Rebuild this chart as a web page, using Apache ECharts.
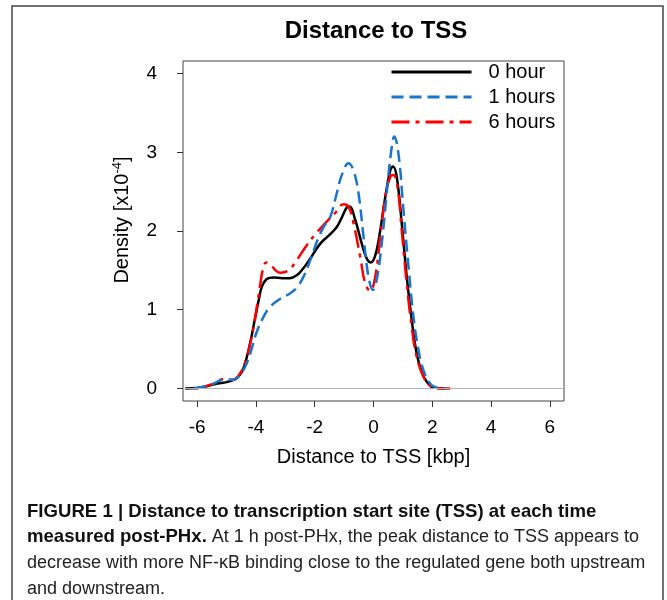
<!DOCTYPE html>
<html>
<head>
<meta charset="utf-8">
<script src="https://cdn.jsdelivr.net/npm/echarts@6/dist/echarts.min.js"></script>
<style>
    html, body {
        margin: 0;
        padding: 0;
        background: #fff;
    }
    #chart {
        width: 667px;
        height: 600px;
    }
</style>
</head>
<body>
<div id="chart"></div>
<script>
// distance to TSS [kbp] and density [x10^-4]
const hour0X = [-6.4, -6.0, -5.7, -5.33, -5.0, -4.75, -4.55, -4.4, -4.2, -4.02, -3.9, -3.8, -3.63, -3.4, -3.1, -2.85, -2.6, -2.4, -2.15, -1.81, -1.47, -1.25, -1.08, -0.91, -0.82, -0.62, -0.4, -0.23, -0.1, 0.06, 0.23, 0.4, 0.57, 0.66, 0.79, 0.96, 1.13, 1.3, 1.47, 1.64, 1.81, 2.04, 2.4]
const hour0Y = [0, 0.005, 0.025, 0.06, 0.08, 0.11, 0.17, 0.28, 0.57, 0.91, 1.13, 1.29, 1.39, 1.41, 1.4, 1.4, 1.44, 1.52, 1.65, 1.84, 1.96, 2.05, 2.17, 2.3, 2.31, 2.14, 1.84, 1.65, 1.6, 1.69, 2.01, 2.43, 2.77, 2.82, 2.69, 2.1, 1.42, 0.87, 0.44, 0.21, 0.085, 0.01, 0]

const hour1X = [-6.1, -5.56, -5.1, -4.76, -4.54, -4.31, -4.14, -3.97, -3.74, -3.51, -3.17, -2.83, -2.61, -2.38, -2.15, -1.93, -1.7, -1.47, -1.25, -1.08, -0.85, -0.68, -0.51, -0.34, -0.17, -0.02, 0.11, 0.28, 0.45, 0.59, 0.71, 0.85, 1.02, 1.19, 1.36, 1.53, 1.7, 1.93, 2.15, 2.49]
const hour1Y = [0, 0.04, 0.11, 0.11, 0.17, 0.32, 0.51, 0.72, 0.91, 1.04, 1.14, 1.21, 1.28, 1.42, 1.63, 1.86, 2.05, 2.18, 2.48, 2.71, 2.86, 2.77, 2.48, 1.93, 1.42, 1.25, 1.38, 1.84, 2.48, 2.98, 3.2, 2.98, 2.26, 1.55, 0.91, 0.49, 0.23, 0.06, 0.01, 0]

const hour6X = [-6.0, -5.44, -5.1, -4.76, -4.54, -4.31, -4.08, -3.95, -3.85, -3.75, -3.65, -3.5, -3.3, -3.17, -2.89, -2.61, -2.27, -1.93, -1.59, -1.3, -1.02, -0.85, -0.68, -0.45, -0.28, -0.11, 0.06, 0.23, 0.4, 0.57, 0.68, 0.83, 0.96, 1.13, 1.3, 1.47, 1.7, 1.93, 2.15, 2.61]
const hour6Y = [0, 0.06, 0.12, 0.11, 0.19, 0.4, 0.78, 1.08, 1.33, 1.53, 1.6, 1.57, 1.49, 1.47, 1.5, 1.63, 1.82, 1.98, 2.12, 2.23, 2.34, 2.31, 2.1, 1.67, 1.33, 1.24, 1.42, 1.93, 2.43, 2.69, 2.71, 2.52, 2.01, 1.33, 0.78, 0.4, 0.15, 0.03, 0, 0]

const seriesNames = ["0 hour", "1 hours", "6 hours"]
const xTicks = [-6, -4, -2, 0, 2, 4, 6]
const yTicks = [0, 1, 2, 3, 4]

const captionLines = [
    [["b", "FIGURE 1 | Distance to transcription start site (TSS) at each time"]],
    [["b", "measured post-PHx."], ["r", " At 1 h post-PHx, the peak distance to TSS appears to"]],
    [["r", "decrease with more NF-\u03baB binding close to the regulated gene both upstream"]],
    [["r", "and downstream."]],
]

const FONT = "'Liberation Sans', Arial, sans-serif"
const pairs = (xs, ys) => xs.map((x, i) => [x, ys[i]])

const chart = echarts.init(document.getElementById("chart"), null, { renderer: "canvas" })

const captionText = captionLines
    .map((line) => line.map(([k, t]) => "{" + k + "|" + t + "}").join(""))
    .join("\n")

const option = {
    animation: false,
    backgroundColor: "#fff",
    textStyle: { fontFamily: FONT },
    title: {
        text: "Distance to TSS",
        left: 376,
        top: 19,
        padding: 0,
        textAlign: "center",
        textStyle: { fontSize: 24, fontWeight: "bold", color: "#000", fontFamily: FONT },
    },
    legend: {
        data: seriesNames,
        orient: "vertical",
        left: 390,
        top: 62,
        padding: 0,
        itemWidth: 80,
        itemHeight: 20,
        itemGap: 5,
        itemStyle: { color: "transparent", borderWidth: 0, opacity: 0 },
        lineStyle: { width: 3 },
        textStyle: { fontSize: 20, color: "#000", fontFamily: FONT, padding: [0, 0, 0, 12] },
    },
    grid: {
        left: 183,
        right: 103,
        top: 61,
        bottom: 199,
        show: true,
        borderColor: "#444",
        borderWidth: 1,
        backgroundColor: "transparent",
    },
    xAxis: {
        type: "value",
        min: -6.48,
        max: 6.48,
        name: "Distance to TSS [kbp]",
        nameLocation: "middle",
        nameGap: 46,
        nameTextStyle: { fontSize: 20, color: "#000", fontFamily: FONT },
        axisLine: { show: false, onZero: false },
        splitLine: { show: false },
        axisTick: { show: true, length: 6, lineStyle: { color: "#333" }, customValues: xTicks },
        axisLabel: { fontSize: 19, color: "#000", margin: 17, fontFamily: FONT, customValues: xTicks },
    },
    yAxis: {
        type: "value",
        min: -0.16,
        max: 4.16,
        name: "{n|Density [x10}{s|-4}{n|]}",
        nameLocation: "middle",
        nameRotate: 90,
        nameGap: 50,
        nameTextStyle: {
            padding: [0, 0, 0, 22],
            rich: {
                n: { fontSize: 20, color: "#000", fontFamily: FONT, lineHeight: 22 },
                s: { fontSize: 13, color: "#000", fontFamily: FONT, verticalAlign: "top", lineHeight: 22 },
            },
        },
        axisLine: { show: false, onZero: false },
        splitLine: { show: false },
        axisTick: { show: true, length: 6, lineStyle: { color: "#333" }, customValues: yTicks },
        axisLabel: { fontSize: 19, color: "#000", margin: 26, fontFamily: FONT, customValues: yTicks },
    },
    graphic: [
        {
            type: "rect",
            shape: { x: 12, y: 6, width: 651, height: 620 },
            style: { fill: "none", stroke: "#444", lineWidth: 1.5 },
            silent: true,
        },
        {
            type: "text",
            left: 27,
            top: 502,
            silent: true,
            style: {
                text: captionText,
                fill: "#111",
                rich: {
                    b: { fontSize: 18.6, fontWeight: "bold", fontFamily: FONT, lineHeight: 25.7, fill: "#111" },
                    r: { fontSize: 18, fontFamily: FONT, lineHeight: 25.7, fill: "#222" },
                },
            },
        },
    ],
    series: [
        {
            name: seriesNames[0],
            type: "line",
            data: pairs(hour0X, hour0Y),
            smooth: 0.4,
            symbol: "none",
            z: 2,
            color: "#000",
            lineStyle: { color: "#000", width: 2.5, type: "solid" },
            markLine: {
                silent: true,
                symbol: ["none", "none"],
                label: { show: false },
                lineStyle: { color: "#b0b0b0", width: 1, type: "solid" },
                data: [{ yAxis: 0 }],
            },
        },
        {
            name: seriesNames[2],
            type: "line",
            data: pairs(hour6X, hour6Y),
            smooth: 0.4,
            symbol: "none",
            z: 3,
            color: "#ff0000",
            lineStyle: { color: "#ff0000", width: 2.5, type: [18, 6, 4, 6] },
        },
        {
            name: seriesNames[1],
            type: "line",
            data: pairs(hour1X, hour1Y),
            smooth: 0.4,
            symbol: "none",
            z: 4,
            color: "#1874cd",
            lineStyle: { color: "#1874cd", width: 2.5, type: [12, 6] },
        },
    ],
}

chart.setOption(option)
</script>
</body>
</html>
